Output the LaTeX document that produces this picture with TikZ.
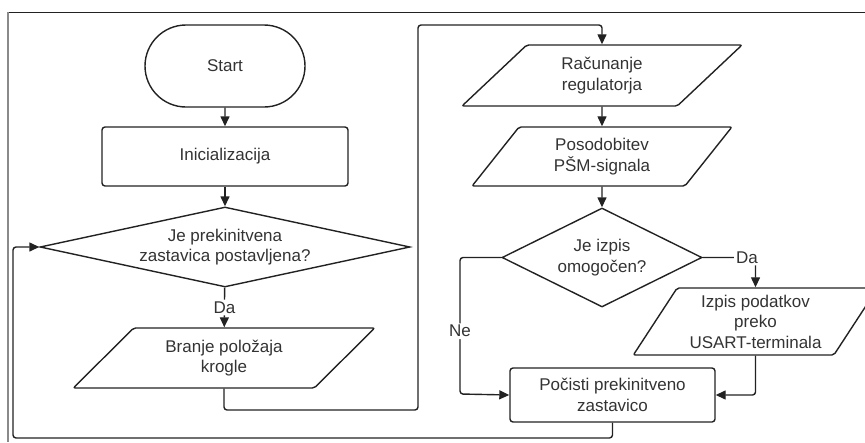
\documentclass[tikz,border=0pt]{standalone}
\usepackage{fontspec}
\setmainfont{Liberation Sans}
\usetikzlibrary{arrows.meta, positioning, shapes.geometric, shapes.misc}
\definecolor{cline}{HTML}{222222}
\definecolor{ctext}{HTML}{333333}
\definecolor{cframe}{HTML}{8A8A8A}
\tikzset{
  every picture/.style={line width=1.4pt},
  box/.style={draw=cline, rectangle, rounded corners=3pt, align=center, text=ctext, inner sep=2pt},
  term/.style={draw=cline, rounded rectangle, align=center, text=ctext, inner sep=2pt},
  io/.style={draw=cline, trapezium, trapezium stretches=true, rounded corners=2pt, align=center, text=ctext, inner sep=1pt},
  decision/.style={draw=cline, diamond, align=center, text=ctext, inner sep=0pt},
  arrow/.style={-{Triangle[length=10pt, width=9pt]}, draw=cline, rounded corners=3pt},
  lab/.style={fill=white, text=ctext, inner sep=2pt},
}

\begin{document}
\begin{tikzpicture}[x=1pt, y=-1pt, every node/.style={font=\fontsize{17}{20.5}\selectfont}]
  \useasboundingbox (0,0) rectangle (865,442);
  \draw[cline, line width=1pt] (8,12) -- (866,12);
  \draw[cframe, line width=1.5pt] (8,12) -- (8,442);

  \node[term, minimum width=164pt, minimum height=82pt] (start) at (225,66) {Start};
  \node[box, minimum width=246pt, minimum height=59pt] (init) at (225,156.5) {Inicializacija};
  \node[decision, aspect=4.6, minimum width=370pt, minimum height=80pt] (flag) at (225,247) {Je prekinitvena\\zastavica postavljena?};
  \node[io, trapezium left angle=44, trapezium right angle=136, minimum width=302pt, minimum height=60pt] (read) at (224,358) {Branje položaja\\krogle};

  \node[io, trapezium left angle=47, trapezium right angle=133, minimum width=280pt, minimum height=61pt] (calc) at (602,75.5) {Računanje\\regulatorja};
  \node[io, trapezium left angle=54, trapezium right angle=126, minimum width=260pt, minimum height=59pt] (pwm) at (602,156.5) {Posodobitev\\PŠM-signala};
  \node[decision, aspect=2, minimum width=200pt, minimum height=99pt] (print) at (602,257.5) {Je izpis\\omogočen?};
  \node[io, trapezium left angle=56, trapezium right angle=124, minimum width=245pt, minimum height=67pt] (usart) at (755.5,321.5) {Izpis podatkov\\preko\\USART-terminala};
  \node[box, minimum width=205pt, minimum height=54pt] (clear) at (612.5,395) {Počisti prekinitveno\\zastavico};

  \coordinate (up1) at (418,410);
  \coordinate (up2) at (418,25);
  \coordinate (ne) at (460,394);
  \coordinate (back) at (13,438);

  \draw[arrow] (start) -- (init);
  \draw[arrow] (init) -- (flag);
  \draw[arrow] (flag) -- node[lab] {Da} (read);
  \draw[arrow] (read.south) |- (up1) -- (up2) -| (calc.north);
  \draw[arrow] (calc) -- (pwm);
  \draw[arrow] (pwm) -- (print);
  \draw[arrow] (print.east) -| node[lab, pos=0.42] {Da} (usart.north);
  \draw[arrow] (print.west) -| node[lab, pos=0.77] {Ne} (ne) -- (clear.west);
  \draw[arrow] (usart.south) |- (clear.east);
  \draw[arrow] (clear.south) |- (back) |- (flag.west);
\end{tikzpicture}
\end{document}
